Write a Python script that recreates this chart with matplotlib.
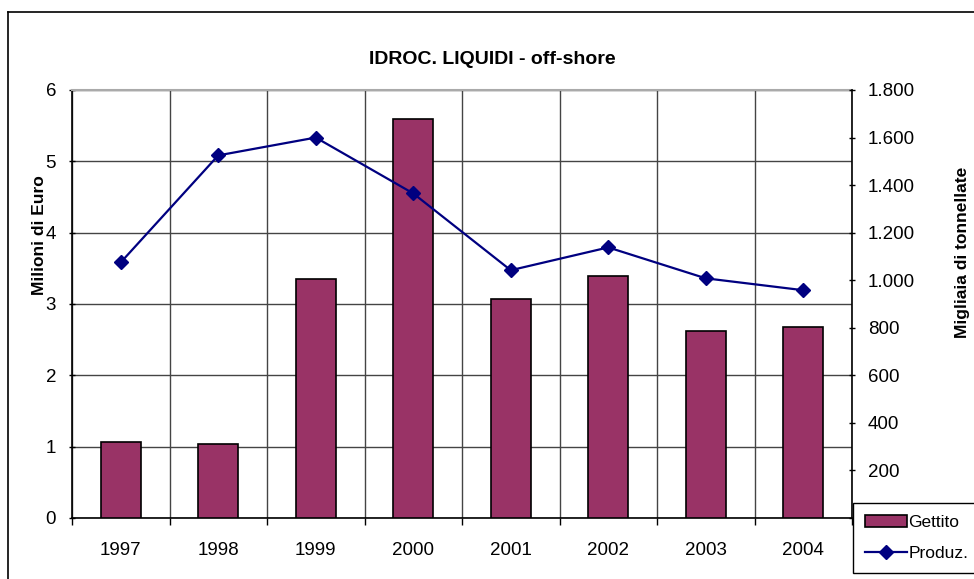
import matplotlib
matplotlib.use("Agg")
import matplotlib.pyplot as plt
from matplotlib.lines import Line2D
from matplotlib.patches import Patch

plt.rcParams['font.family'] = ['Liberation Sans', 'DejaVu Sans']

years = ['1997', '1998', '1999', '2000', '2001', '2002', '2003', '2004']
gettito = [1.06, 1.04, 3.35, 5.60, 3.07, 3.39, 2.62, 2.68]          # Milioni di Euro
produz = [1075, 1525, 1600, 1365, 1042, 1138, 1008, 958]            # Migliaia di tonnellate
left_ticks = [0, 1, 2, 3, 4, 5, 6]
right_ticks = [0, 200, 400, 600, 800, 1000, 1200, 1400, 1600, 1800]
right_labels = ['', '200', '400', '600', '800', '1.000', '1.200', '1.400', '1.600', '1.800']

W, H = 974, 579
fig = plt.figure(figsize=(W / 100, H / 100), dpi=100)

# outer frame
fig.add_artist(Line2D([8 / W, 1], [1 - 12 / H, 1 - 12 / H], color='black', lw=1.2))
fig.add_artist(Line2D([8 / W, 8 / W], [0, 1 - 12 / H], color='black', lw=1.2))

x0, x1, y0, y1 = 72, 852, 90, 518
ax = fig.add_axes([x0 / W, 1 - y1 / H, (x1 - x0) / W, (y1 - y0) / H])
ax2 = ax.twinx()

xs = list(range(len(years)))
ax.bar(xs, gettito, width=0.41, color='#993366', edgecolor='black', linewidth=1.2, zorder=3)
ax.set_xlim(-0.5, len(years) - 0.5)
ax.set_ylim(0, 6)
ax.set_yticks(left_ticks)
ax.set_xticks([x - 0.5 for x in range(len(years) + 1)], minor=False)
ax.set_xticklabels([])
ax.set_xticks(xs, minor=True)
ax.set_xticklabels(years, minor=True)
ax.tick_params(axis='x', which='minor', length=0, pad=17, labelsize=13.5)
ax.tick_params(axis='x', which='major', length=5, direction='out', width=1)
ax.tick_params(axis='y', length=5, direction='inout', width=1, labelsize=13.5, pad=9)
ax.grid(True, which='major', color='#444444', lw=1, zorder=0)
ax.set_axisbelow(True)
ax.spines['top'].set_color('#aaaaaa')
ax.spines['top'].set_linewidth(1.5)
ax.spines['left'].set_linewidth(1.2)
ax.spines['bottom'].set_linewidth(1.2)
ax.spines['right'].set_visible(False)

ax2.plot(xs, produz, color='#000080', lw=1.6, marker='D', markersize=7, zorder=4)
ax2.set_ylim(0, 1800)
ax2.set_yticks(right_ticks)
ax2.set_yticklabels(right_labels)
ax2.tick_params(axis='y', length=5, direction='inout', width=1, labelsize=13.5, pad=9)
ax2.spines['right'].set_linewidth(1.2)
for s in ['top', 'left', 'bottom']:
    ax2.spines[s].set_visible(False)

fig.text(492 / W, 1 - 60 / H, 'IDROC. LIQUIDI - off-shore', ha='center', va='center',
         fontsize=14, fontweight='bold')
fig.text(40 / W, 1 - 235 / H, 'Milioni di Euro', ha='center', va='center',
         rotation=90, fontsize=12.5, fontweight='bold')
fig.text(963 / W, 1 - 252 / H, 'Migliaia di tonnellate', ha='center', va='center',
         rotation=90, fontsize=12.5, fontweight='bold')

handles = [Patch(facecolor='#993366', edgecolor='black', linewidth=1.2),
           Line2D([0], [0], color='#000080', lw=1.6, marker='D', markersize=7)]
leg = fig.legend(handles, ['Gettito', 'Produz.'], loc='upper left',
                 bbox_to_anchor=(853 / W, 1 - 503 / H), fontsize=12.5,
                 frameon=True, fancybox=False, edgecolor='black', framealpha=1,
                 handlelength=2.4, handletextpad=0.1, labelspacing=0.9,
                 borderpad=0.7, borderaxespad=0)
leg.get_frame().set_linewidth(1)

fig.savefig('out.png', dpi=100)
